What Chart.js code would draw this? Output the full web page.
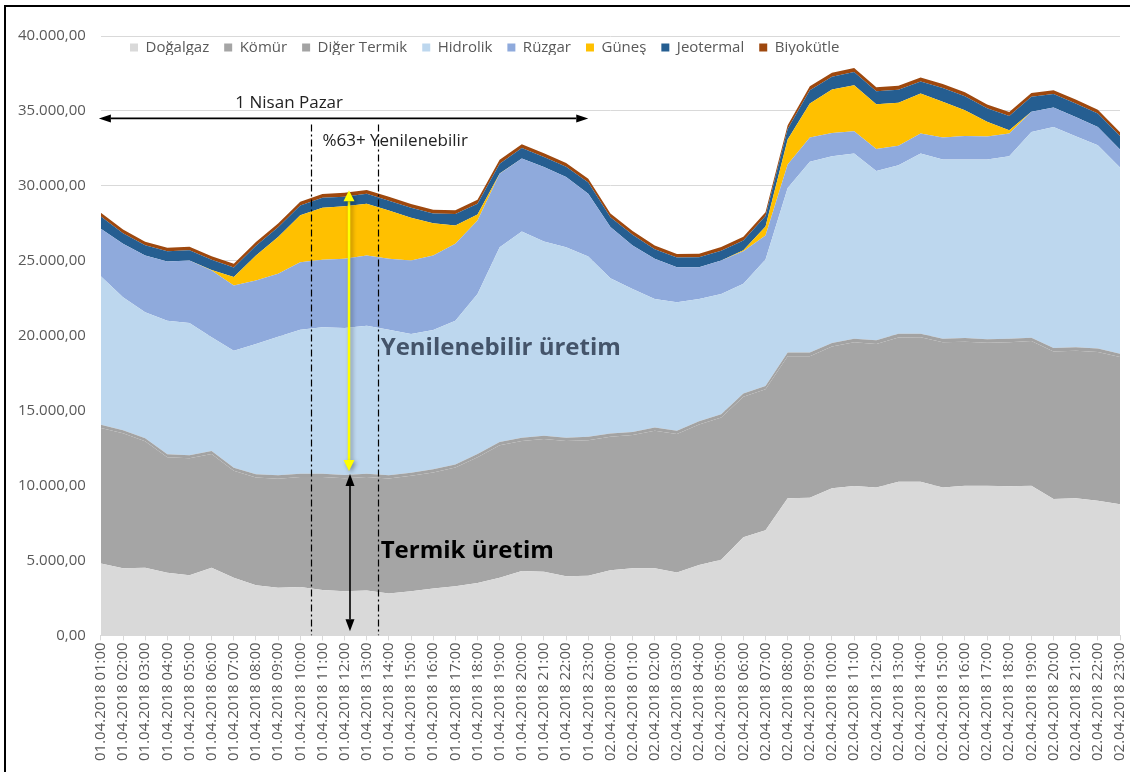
<!DOCTYPE html>
<html><head><meta charset="utf-8">
<script src="https://cdn.jsdelivr.net/npm/chart.js@4/dist/chart.umd.min.js"></script>
<style>
html,body{margin:0;padding:0;background:#fff;overflow:hidden;}
#wrap{position:relative;width:1130px;height:772px;overflow:hidden;}
#frame{position:absolute;left:4px;top:5px;width:1150px;height:800px;border-left:2px solid #000;border-top:2px solid #000;pointer-events:none;}
canvas{display:block;}
</style></head><body>
<div id="wrap"><canvas id="c" width="1130" height="772"></canvas><div id="frame"></div></div>
<script>
const categories = [
 '01.04.2018 01:00','01.04.2018 02:00','01.04.2018 03:00','01.04.2018 04:00','01.04.2018 05:00','01.04.2018 06:00',
 '01.04.2018 07:00','01.04.2018 08:00','01.04.2018 09:00','01.04.2018 10:00','01.04.2018 11:00','01.04.2018 12:00',
 '01.04.2018 13:00','01.04.2018 14:00','01.04.2018 15:00','01.04.2018 16:00','01.04.2018 17:00','01.04.2018 18:00',
 '01.04.2018 19:00','01.04.2018 20:00','01.04.2018 21:00','01.04.2018 22:00','01.04.2018 23:00',
 '02.04.2018 00:00','02.04.2018 01:00','02.04.2018 02:00','02.04.2018 03:00','02.04.2018 04:00','02.04.2018 05:00',
 '02.04.2018 06:00','02.04.2018 07:00','02.04.2018 08:00','02.04.2018 09:00','02.04.2018 10:00','02.04.2018 11:00',
 '02.04.2018 12:00','02.04.2018 13:00','02.04.2018 14:00','02.04.2018 15:00','02.04.2018 16:00','02.04.2018 17:00',
 '02.04.2018 18:00','02.04.2018 19:00','02.04.2018 20:00','02.04.2018 21:00','02.04.2018 22:00','02.04.2018 23:00'
];
const dogalgaz = [4800,4480,4520,4180,4010,4520,3840,3340,3170,3230,3030,2940,2990,2790,2940,3120,3280,3500,3850,4300,4250,3950,3980,4350,4480,4480,4200,4700,5040,6550,7010,9150,9190,9810,9970,9860,10260,10260,9860,9990,9990,9950,9990,9100,9150,8990,8750];
const komur = [9040,9005,8430,7710,7815,7580,7140,7195,7290,7340,7540,7545,7585,7680,7710,7755,7925,8390,8835,8670,8850,9015,9045,8900,8885,9180,9245,9380,9505,9370,9410,9485,9440,9460,9585,9585,9625,9630,9700,9610,9535,9615,9650,9850,9845,9925,9830];
const digerTermik = [210,205,200,200,195,200,210,215,220,220,220,215,215,210,210,205,205,210,215,220,220,225,225,220,215,210,205,210,215,220,230,235,240,240,245,245,245,240,240,240,235,235,230,230,225,225,220];
const hidrolik = [9920,8870,8410,8910,8830,7590,7810,8690,9250,9610,9770,9810,9880,9720,9250,9300,9590,10690,13010,13770,12970,12720,12030,10360,9540,8580,8580,8160,8030,7320,8430,10990,12730,12460,12350,11300,11240,12020,11950,11910,11990,12170,13730,14750,14090,13570,12420];
const ruzgar = [3160,3570,3790,3950,4170,4460,4350,4240,4200,4500,4500,4620,4680,4730,4910,4970,5130,4900,4900,4860,4970,4680,4200,3420,2900,2680,2340,2120,2230,2180,1600,1560,1620,1560,1500,1470,1300,1340,1470,1580,1540,1520,1340,1300,1290,1220,1200];
const gunes = [0,0,0,0,0,40,560,1670,2450,3130,3480,3500,3460,3230,2850,2160,1230,400,20,0,0,0,0,0,0,0,0,0,0,60,600,1670,2280,2900,3070,2990,2870,2680,2390,1720,980,220,0,0,0,0,0];
const jeotermal = [820,700,680,680,680,670,640,650,650,660,660,650,660,650,660,650,760,720,650,700,660,680,750,650,720,640,640,660,650,660,700,700,880,850,870,860,870,800,920,930,900,950,1000,900,900,900,900];
const biyokutle = [250,250,245,245,240,240,245,250,255,255,260,260,255,255,250,250,250,255,260,260,255,255,250,250,245,245,240,240,245,250,255,260,265,265,270,270,265,265,265,260,260,260,255,255,255,250,250];
const yTickValues = [0,5000,10000,15000,20000,25000,30000,35000,40000];
const yTickLabels = ['0,00','5.000,00','10.000,00','15.000,00','20.000,00','25.000,00','30.000,00','35.000,00','40.000,00'];

const seriesNames = ['Doğalgaz','Kömür','Diğer Termik','Hidrolik','Rüzgar','Güneş','Jeotermal','Biyokütle'];
const seriesData = [dogalgaz,komur,digerTermik,hidrolik,ruzgar,gunes,jeotermal,biyokutle];
const seriesColors = ['#d9d9d9','#a5a5a5','#a3a3a3','#bdd7ee','#8faadc','#ffc000','#255e91','#9e480e'];

// annotation placement (in category index / value units)
const notes = {
  dayArrow: {from: 0, to: 22, value: 34500},
  dayText: {text: '1 Nisan Pazar', index: 8.5, value: 35550},
  dashIdx: [9.5, 12.5], dashTop: 34100,
  pctText: {text: '%63+ Yenilenebilir', index: 10.0, value: 33000},
  yellowArrow: {index: 11.2, from: 29700, to: 10970},
  blackArrow: {index: 11.2, from: 10770, to: 270},
  renText: {text: 'Yenilenebilir üretim', index: 12.63, value: 19200},
  termText: {text: 'Termik üretim', index: 12.63, value: 5620}
};

const FONT = "'Open Sans', 'DejaVu Sans', sans-serif";
Chart.defaults.font.family = FONT;

function arrowHead(ctx, x, y, ang, len, wid, color) {
  ctx.save();
  ctx.translate(x, y); ctx.rotate(ang);
  ctx.beginPath();
  ctx.moveTo(0, 0); ctx.lineTo(-len, -wid/2); ctx.lineTo(-len, wid/2); ctx.closePath();
  ctx.fillStyle = color; ctx.fill();
  ctx.restore();
}
function dblArrow(ctx, x1, y1, x2, y2, color, lw, len, wid) {
  const ang = Math.atan2(y2 - y1, x2 - x1);
  const dx = Math.cos(ang) * len, dy = Math.sin(ang) * len;
  ctx.beginPath();
  ctx.moveTo(x1 + dx, y1 + dy); ctx.lineTo(x2 - dx, y2 - dy);
  ctx.strokeStyle = color; ctx.lineWidth = lw; ctx.stroke();
  arrowHead(ctx, x2, y2, ang, len, wid, color);
  arrowHead(ctx, x1, y1, ang + Math.PI, len, wid, color);
}

const notesPlugin = {
  id: 'notes',
  afterDatasetsDraw(chart) {
    const {ctx} = chart; const xs = chart.scales.x, ys = chart.scales.y;
    ctx.save();
    ctx.setLineDash([7,3,2,3]);
    ctx.strokeStyle = '#000'; ctx.lineWidth = 1.2;
    notes.dashIdx.forEach(i => {
      const px = Math.round(xs.getPixelForValue(i)) + 0.5;
      ctx.beginPath(); ctx.moveTo(px, ys.getPixelForValue(notes.dashTop)); ctx.lineTo(px, ys.getPixelForValue(0)); ctx.stroke();
    });
    ctx.setLineDash([]);
    const dy = ys.getPixelForValue(notes.dayArrow.value);
    dblArrow(ctx, xs.getPixelForValue(notes.dayArrow.from) - 2, dy, xs.getPixelForValue(notes.dayArrow.to), dy, '#000', 1.6, 12, 8);
    ctx.fillStyle = '#222'; ctx.font = '17px ' + FONT; ctx.textBaseline = 'middle';
    ctx.textAlign = 'center';
    ctx.fillText(notes.dayText.text, xs.getPixelForValue(notes.dayText.index), ys.getPixelForValue(notes.dayText.value));
    ctx.textAlign = 'left';
    ctx.fillText(notes.pctText.text, xs.getPixelForValue(notes.pctText.index), ys.getPixelForValue(notes.pctText.value));
    const ya = notes.yellowArrow; const yx = xs.getPixelForValue(ya.index);
    ctx.save();
    ctx.shadowColor = 'rgba(0,0,0,0.35)'; ctx.shadowBlur = 4; ctx.shadowOffsetX = 2; ctx.shadowOffsetY = 2;
    dblArrow(ctx, yx, ys.getPixelForValue(ya.from), yx, ys.getPixelForValue(ya.to), '#ffff00', 2.5, 11, 11);
    ctx.restore();
    const ba = notes.blackArrow; const bx = xs.getPixelForValue(ba.index) + 1;
    dblArrow(ctx, bx, ys.getPixelForValue(ba.from), bx, ys.getPixelForValue(ba.to), '#000', 1.6, 12, 9);
    ctx.font = 'bold 24px ' + FONT; ctx.textAlign = 'left';
    ctx.fillStyle = '#44546a';
    ctx.fillText(notes.renText.text, xs.getPixelForValue(notes.renText.index), ys.getPixelForValue(notes.renText.value));
    ctx.fillStyle = '#000';
    ctx.fillText(notes.termText.text, xs.getPixelForValue(notes.termText.index), ys.getPixelForValue(notes.termText.value));
    ctx.restore();
  }
};

const LEG_PAD = 15;
const legendInside = {
  id: 'legendInside',
  afterLayout(chart) {
    const lg = chart.legend; if (!lg) return;
    const h = lg.height;
    lg.top = chart.chartArea.top + 4 - LEG_PAD; lg.bottom = lg.top + h;
    lg.left = 130 - LEG_PAD;
  }
};

const datasets = seriesNames.map((n, k) => ({
  label: n,
  data: seriesData[k],
  backgroundColor: seriesColors[k],
  borderColor: seriesColors[k],
  borderWidth: 0,
  pointRadius: 0,
  pointHoverRadius: 0,
  tension: 0,
  fill: k === 0 ? 'origin' : '-1'
}));

new Chart(document.getElementById('c'), {
  type: 'line',
  data: {labels: categories, datasets},
  plugins: [notesPlugin, legendInside],
  options: {
    responsive: false, animation: false, devicePixelRatio: 1, events: [],
    layout: {padding: {top: 6, left: 3, right: 10, bottom: 9}},
    plugins: {
      legend: {
        position: 'top', align: 'start', maxHeight: 30,
        labels: {font: {size: 15, family: FONT}, color: '#595959', boxWidth: 8, boxHeight: 8, padding: LEG_PAD}
      },
      tooltip: {enabled: false}
    },
    scales: {
      x: {
        stacked: true, offset: false,
        afterFit: (s) => { s.paddingRight = 0; s.paddingLeft = 0; },
        grid: {drawOnChartArea: false, drawTicks: true, tickLength: 5, color: '#d9d9d9'},
        border: {display: true, color: '#d9d9d9'},
        ticks: {autoSkip: false, maxRotation: 90, minRotation: 90, padding: 2, color: '#595959', font: {size: 15, family: FONT}}
      },
      y: {
        stacked: true, min: 0, max: 40000,
        afterBuildTicks: (s) => { s.ticks = yTickValues.map(v => ({value: v})); },
        grid: {color: '#d9d9d9', drawTicks: false},
        border: {display: false},
        ticks: {padding: 15, color: '#595959', font: {size: 15, family: FONT},
          callback: (v) => yTickLabels[yTickValues.indexOf(v)]}
      }
    }
  }
});
</script>
</body></html>
